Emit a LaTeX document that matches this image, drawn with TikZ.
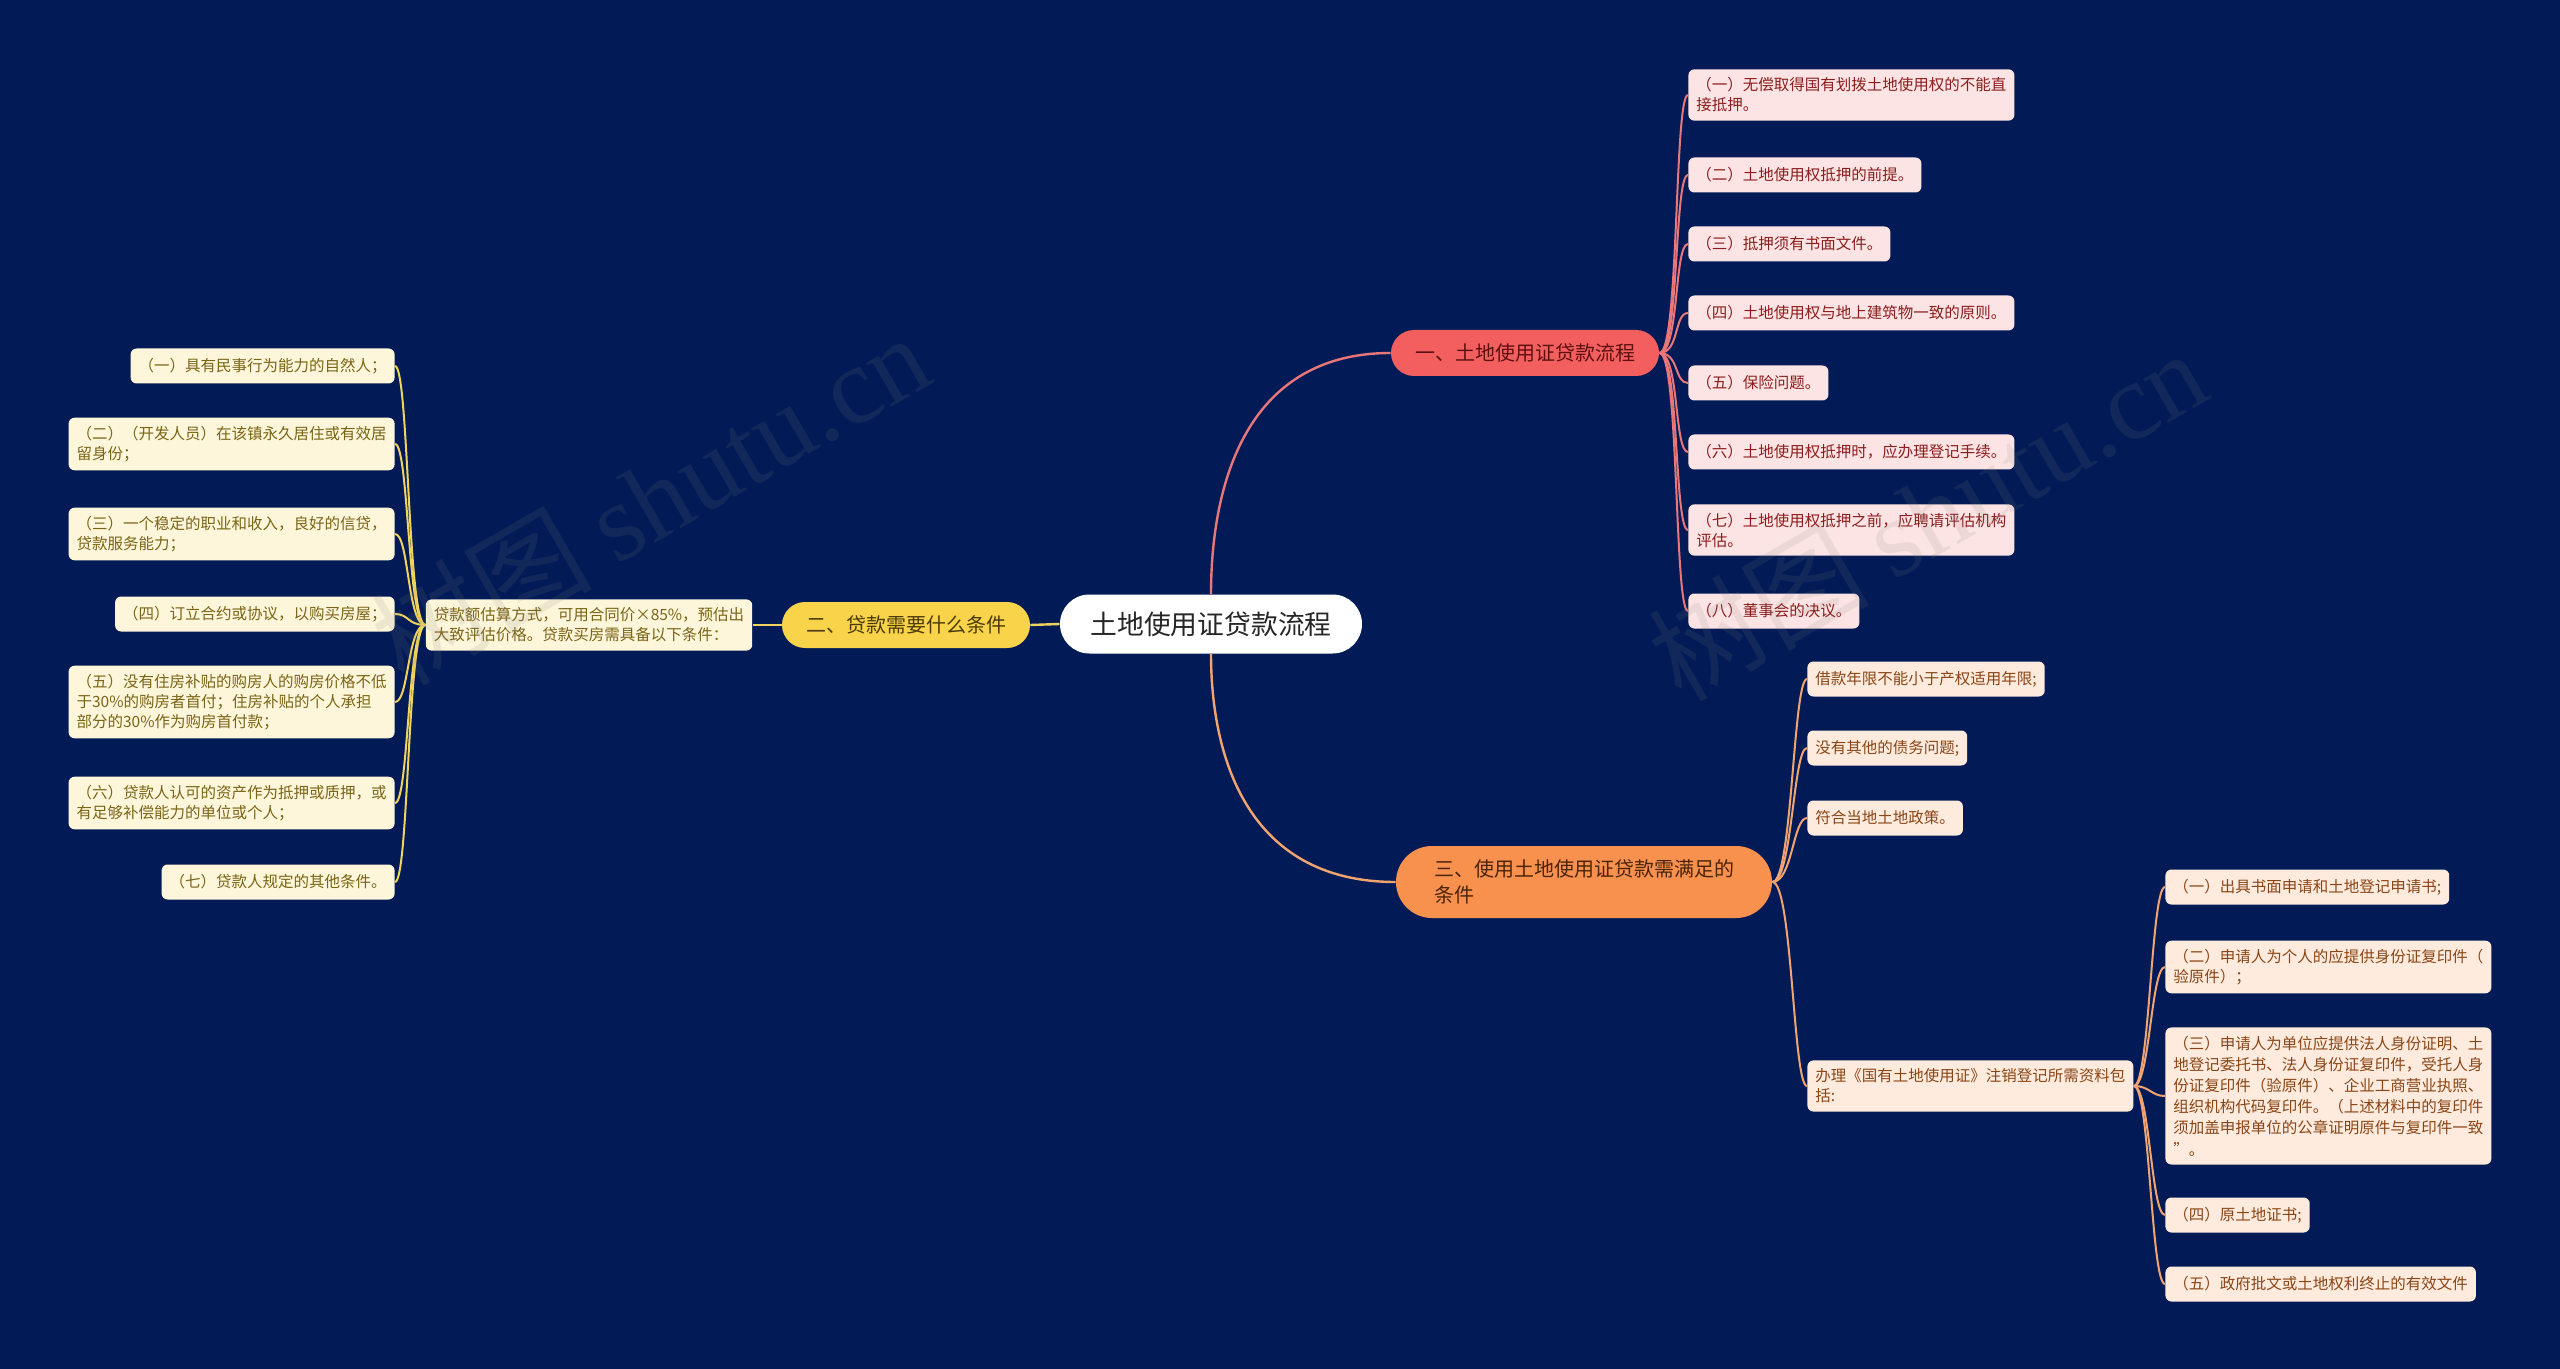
\documentclass[tikz,border=0pt]{standalone}
\usepackage{fontspec}
\setmainfont{Noto Sans CJK SC}
\newfontfamily\wmfont{Liberation Serif}
\usetikzlibrary{positioning}

\definecolor{bgnavy}{HTML}{021B56}
\definecolor{redfill}{HTML}{F25F5E}
\definecolor{redtext}{HTML}{5E1010}
\definecolor{redline}{HTML}{E9777A}
\definecolor{redleaffill}{HTML}{FDE4E4}
\definecolor{redleaftext}{HTML}{8C1D1D}
\definecolor{yelfill}{HTML}{F9D44A}
\definecolor{yeltext}{HTML}{4A3A05}
\definecolor{yelline}{HTML}{F0D35C}
\definecolor{yelleaffill}{HTML}{FEF6DA}
\definecolor{yelleaftext}{HTML}{7A6416}
\definecolor{orgfill}{HTML}{F8914E}
\definecolor{orgtext}{HTML}{4A240A}
\definecolor{orgline}{HTML}{F2A470}
\definecolor{orgleaffill}{HTML}{FEEBDD}
\definecolor{orgleaftext}{HTML}{8A4516}

\begin{document}
\begin{tikzpicture}[
  x=0.5pt, y=-0.5pt,
  rootnode/.style={
     fill=white,
     text=black!85,
     rounded corners=14.7pt,
     minimum width=151pt,
     minimum height=29.5pt,
     font=\fontsize{13.4pt}{16pt}\selectfont},
  branchnode/.style={
     rounded corners=11.5pt,
     minimum height=23pt,
     inner xsep=12pt,
     font=\fontsize{10pt}{13pt}\selectfont},
  leaf/.style={
     rounded corners=3pt,
     inner xsep=4pt,
     inner ysep=4.2pt,
     minimum height=17.5pt,
     align=left,
     font=\fontsize{7.75pt}{10pt}\selectfont},
  redleaf/.style={leaf, fill=redleaffill, text=redleaftext, anchor=west},
  yelleaf/.style={leaf, fill=yelleaffill, text=yelleaftext, anchor=east},
  orgleaf/.style={leaf, fill=orgleaffill, text=orgleaftext, anchor=west},
  mainline/.style={line width=1.2pt},
  subline/.style={line width=1pt},
  watermark/.style={text=gray, opacity=0.13, rotate=30,
     font=\fontsize{55pt}{60pt}\selectfont}
  ]
  \useasboundingbox (0,0) rectangle (2560,1369);
  \fill[bgnavy] (0,0) rectangle (2560,1369);

  % centre and main branches
  \node[rootnode] (root) at (1211,624) {土地使用证贷款流程};
  \node[branchnode, fill=redfill, text=redtext] (loanflow) at (1525,353) {一、土地使用证贷款流程};
  \node[branchnode, fill=yelfill, text=yeltext] (cond) at (906,625) {二、贷款需要什么条件};
  \node[branchnode, fill=orgfill, text=orgtext, align=left, rounded corners=18pt,
        minimum height=36pt, inner xsep=19pt] (meet) at (1584,882)
        {三、使用土地使用证贷款需满足的\\条件};

  % first branch leaves
  \node[redleaf] (flowA) at (1688,95)  {（一）无偿取得国有划拨土地使用权的不能直\\接抵押。};
  \node[redleaf] (flowB) at (1688,175) {（二）土地使用权抵押的前提。};
  \node[redleaf] (flowC) at (1688,244) {（三）抵押须有书面文件。};
  \node[redleaf] (flowD) at (1688,313) {（四）土地使用权与地上建筑物一致的原则。};
  \node[redleaf] (flowE) at (1688,383) {（五）保险问题。};
  \node[redleaf] (flowF) at (1688,452) {（六）土地使用权抵押时，应办理登记手续。};
  \node[redleaf] (flowG) at (1688,530) {（七）土地使用权抵押之前，应聘请评估机构\\评估。};
  \node[redleaf] (flowH) at (1688,611) {（八）董事会的决议。};

  % second branch
  \node[leaf, fill=yelleaffill, text=yelleaftext] (estimate) at (589,625)
        {贷款额估算方式，可用合同价×85\%，预估出\\大致评估价格。贷款买房需具备以下条件：};
  \node[yelleaf] (condA) at (395,366) {（一）具有民事行为能力的自然人；};
  \node[yelleaf] (condB) at (395,444) {（二）（开发人员）在该镇永久居住或有效居\\留身份；};
  \node[yelleaf] (condC) at (395,534) {（三）一个稳定的职业和收入，良好的信贷，\\贷款服务能力；};
  \node[yelleaf] (condD) at (395,614) {（四）订立合约或协议，以购买房屋；};
  \node[yelleaf] (condE) at (395,702) {（五）没有住房补贴的购房人的购房价格不低\\于30\%的购房者首付；住房补贴的个人承担\\部分的30\%作为购房首付款；};
  \node[yelleaf] (condF) at (395,803) {（六）贷款人认可的资产作为抵押或质押，或\\有足够补偿能力的单位或个人；};
  \node[yelleaf] (condG) at (395,882) {（七）贷款人规定的其他条件。};

  % third branch
  \node[orgleaf] (meetA) at (1807,679)  {借款年限不能小于产权适用年限;};
  \node[orgleaf] (meetB) at (1807,748)  {没有其他的债务问题;};
  \node[orgleaf] (meetC) at (1807,818)  {符合当地土地政策。};
  \node[orgleaf] (meetD) at (1807,1086) {办理《国有土地使用证》注销登记所需资料包\\括:};
  \node[orgleaf] (docA) at (2165,887)  {（一）出具书面申请和土地登记申请书;};
  \node[orgleaf] (docB) at (2165,967)  {（二）申请人为个人的应提供身份证复印件（\\验原件）；};
  \node[orgleaf, font=\fontsize{7.75pt}{10.6pt}\selectfont] (docC) at (2165,1096)
        {（三）申请人为单位应提供法人身份证明、土\\地登记委托书、法人身份证复印件，受托人身\\份证复印件（验原件）、企业工商营业执照、\\组织机构代码复印件。（上述材料中的复印件\\须加盖申报单位的公章证明原件与复印件一致\\”。};
  \node[orgleaf] (docD) at (2165,1215) {（四）原土地证书;};
  \node[orgleaf] (docE) at (2165,1284) {（五）政府批文或土地权利终止的有效文件};

% edges from the centre
\draw[mainline, redline] (root.north) .. controls +(0,-100) and +(-150,0) .. (loanflow.west);
\draw[mainline, orgline] (root.south) .. controls +(0,100) and +(-150,0) .. (meet.west);
\draw[mainline, yelline] (root.west) -- (cond.east);
\draw[subline, yelline] (cond.west) -- (estimate.east);

% edges of the first branch
\draw[subline, redline] (loanflow.east) .. controls +(20,0) and +(-14,0) .. (flowA.west);
\draw[subline, redline] (loanflow.east) .. controls +(20,0) and +(-14,0) .. (flowB.west);
\draw[subline, redline] (loanflow.east) .. controls +(20,0) and +(-14,0) .. (flowC.west);
\draw[subline, redline] (loanflow.east) .. controls +(20,0) and +(-14,0) .. (flowD.west);
\draw[subline, redline] (loanflow.east) .. controls +(20,0) and +(-14,0) .. (flowE.west);
\draw[subline, redline] (loanflow.east) .. controls +(20,0) and +(-14,0) .. (flowF.west);
\draw[subline, redline] (loanflow.east) .. controls +(20,0) and +(-14,0) .. (flowG.west);
\draw[subline, redline] (loanflow.east) .. controls +(20,0) and +(-14,0) .. (flowH.west);

% edges of the second branch
\draw[subline, yelline] (estimate.west) .. controls +(-18,0) and +(14,0) .. (condA.east);
\draw[subline, yelline] (estimate.west) .. controls +(-18,0) and +(14,0) .. (condB.east);
\draw[subline, yelline] (estimate.west) .. controls +(-18,0) and +(14,0) .. (condC.east);
\draw[subline, yelline] (estimate.west) .. controls +(-18,0) and +(14,0) .. (condD.east);
\draw[subline, yelline] (estimate.west) .. controls +(-18,0) and +(14,0) .. (condE.east);
\draw[subline, yelline] (estimate.west) .. controls +(-18,0) and +(14,0) .. (condF.east);
\draw[subline, yelline] (estimate.west) .. controls +(-18,0) and +(14,0) .. (condG.east);

% edges of the third branch
\draw[subline, orgline] (meet.east) .. controls +(20,0) and +(-14,0) .. (meetA.west);
\draw[subline, orgline] (meet.east) .. controls +(20,0) and +(-14,0) .. (meetB.west);
\draw[subline, orgline] (meet.east) .. controls +(20,0) and +(-14,0) .. (meetC.west);
\draw[subline, orgline] (meet.east) .. controls +(20,0) and +(-14,0) .. (meetD.west);
\draw[subline, orgline] (meetD.east) .. controls +(16,0) and +(-14,0) .. (docA.west);
\draw[subline, orgline] (meetD.east) .. controls +(16,0) and +(-14,0) .. (docB.west);
\draw[subline, orgline] (meetD.east) .. controls +(16,0) and +(-14,0) .. (docC.west);
\draw[subline, orgline] (meetD.east) .. controls +(16,0) and +(-14,0) .. (docD.west);
\draw[subline, orgline] (meetD.east) .. controls +(16,0) and +(-14,0) .. (docE.west);

% watermark
\node[watermark] (markL) at (650,498) {树图 {\wmfont shutu.cn}};
\node[watermark] (markR) at (1927,514) {树图 {\wmfont shutu.cn}};

\end{tikzpicture}
\end{document}
